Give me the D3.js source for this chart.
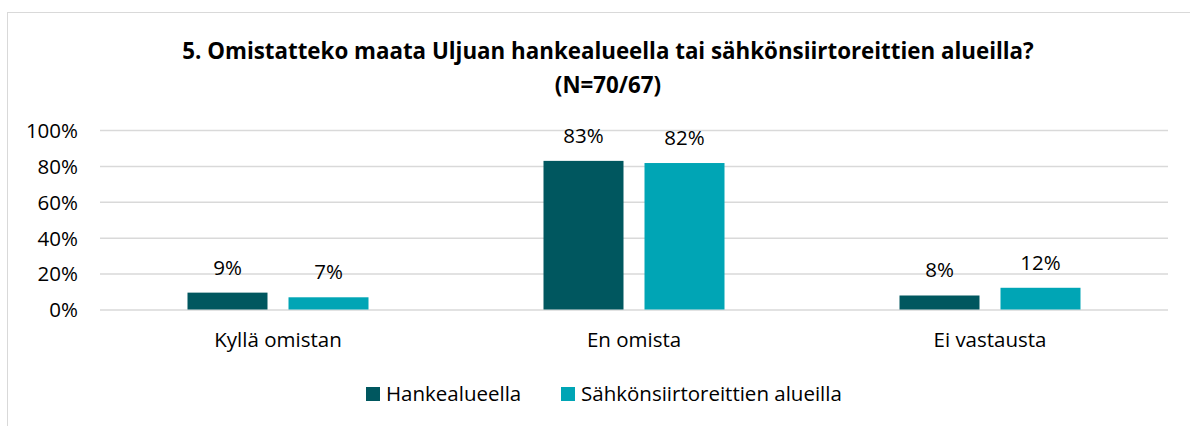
<!DOCTYPE html>
<html>
<head>
<meta charset="utf-8">
<script src="https://cdn.jsdelivr.net/npm/d3@7"></script>
<style>
  html, body { margin: 0; padding: 0; background: #fff; }
  svg { display: block; }
  text { font-family: "Open Sans", sans-serif; fill: #000; }
</style>
</head>
<body>
<svg id="chart" width="1190" height="426"></svg>
<script>
// ---- data ----
const categories = ["Kyllä omistan", "En omista", "Ei vastausta"];
const seriesNames = ["Hankealueella", "Sähkönsiirtoreittien alueilla"];
const hankealueella = [0.094, 0.828, 0.078];
const sahkonsiirto = [0.068, 0.816, 0.121];
const dataLabels1 = ["9%", "83%", "8%"];
const dataLabels2 = ["7%", "82%", "12%"];
const yTicks = [0, 0.2, 0.4, 0.6, 0.8, 1.0];
const titleLines = ["5. Omistatteko maata Uljuan hankealueella tai sähkönsiirtoreittien alueilla?", "(N=70/67)"];
const colors = ["#00575F", "#00A5B5"];

const FONT = "'Open Sans', sans-serif";
const BODY = 20.5;
const svg = d3.select("#chart");

// chart border (only top/left visible in frame)
svg.append("rect")
  .attr("x", 7.5).attr("y", 12.5)
  .attr("width", 1200).attr("height", 430)
  .attr("fill", "none").attr("stroke", "#d9d9d9").attr("stroke-width", 1);

// title
const title = svg.append("text")
  .attr("text-anchor", "middle")
  .attr("font-weight", "bold")
  .attr("font-size", 22);
title.selectAll("tspan").data(titleLines).enter().append("tspan")
  .attr("x", 608)
  .attr("y", (d, i) => 59 + i * 34)
  .text(d => d);
// fit first title line to the reference width
const t0 = title.select("tspan").node();
const w0 = t0.getComputedTextLength();
title.attr("font-size", 22 * 852 / w0);

// scales
const plotLeft = 100, plotRight = 1168;
const y = d3.scaleLinear().domain([0, 1]).range([309.5, 130]);
const x0 = d3.scaleBand().domain(categories).range([plotLeft, plotRight]).padding(0);
const groupW = 181;
const x1 = d3.scaleBand().domain(seriesNames).range([0, groupW]).paddingInner(0.208);
const groupOffset = (x0.bandwidth() - groupW) / 2;

// gridlines via axis
const grid = svg.append("g")
  .attr("transform", `translate(${plotLeft},0)`)
  .call(d3.axisLeft(y).tickValues(yTicks).tickSize(-(plotRight - plotLeft)).tickFormat(""));
grid.select(".domain").remove();
grid.selectAll(".tick line").attr("stroke", "#d9d9d9").attr("stroke-width", 1.5);

// y tick labels
const yAxis = svg.append("g")
  .attr("transform", `translate(78,0)`)
  .call(d3.axisLeft(y).tickValues(yTicks).tickSize(0).tickPadding(0).tickFormat(d3.format(".0%")));
yAxis.select(".domain").remove();
yAxis.selectAll(".tick text")
  .attr("font-family", FONT)
  .attr("font-size", BODY)
  .attr("fill", "#000")
  .attr("dy", "0.36em")
  .attr("text-anchor", "end");

// bars
const series = [hankealueella, sahkonsiirto];
const labels = [dataLabels1, dataLabels2];
series.forEach((vals, si) => {
  const g = svg.append("g");
  g.selectAll("rect").data(vals).enter().append("rect")
    .attr("x", (d, i) => x0(categories[i]) + groupOffset + x1(seriesNames[si]))
    .attr("y", d => y(d))
    .attr("width", x1.bandwidth())
    .attr("height", d => y(0) - y(d))
    .attr("fill", colors[si]);
  g.selectAll("text").data(vals).enter().append("text")
    .attr("x", (d, i) => x0(categories[i]) + groupOffset + x1(seriesNames[si]) + x1.bandwidth() / 2)
    .attr("y", d => y(d) - 18)
    .attr("text-anchor", "middle")
    .attr("font-size", BODY)
    .text((d, i) => labels[si][i]);
});

// category axis labels
const xAxis = svg.append("g")
  .attr("transform", `translate(0,347)`)
  .call(d3.axisBottom(x0).tickSize(0).tickPadding(0));
xAxis.select(".domain").remove();
xAxis.selectAll(".tick text")
  .attr("font-family", FONT)
  .attr("font-size", BODY)
  .attr("fill", "#000")
  .attr("dy", 0);

// legend
const legendX = [366, 561];
const legend = svg.append("g");
seriesNames.forEach((name, i) => {
  legend.append("rect")
    .attr("x", legendX[i]).attr("y", 387)
    .attr("width", 14).attr("height", 14)
    .attr("fill", colors[i]);
  legend.append("text")
    .attr("x", legendX[i] + 20).attr("y", 400.5)
    .attr("font-size", BODY)
    .text(name);
});
</script>
</body>
</html>
